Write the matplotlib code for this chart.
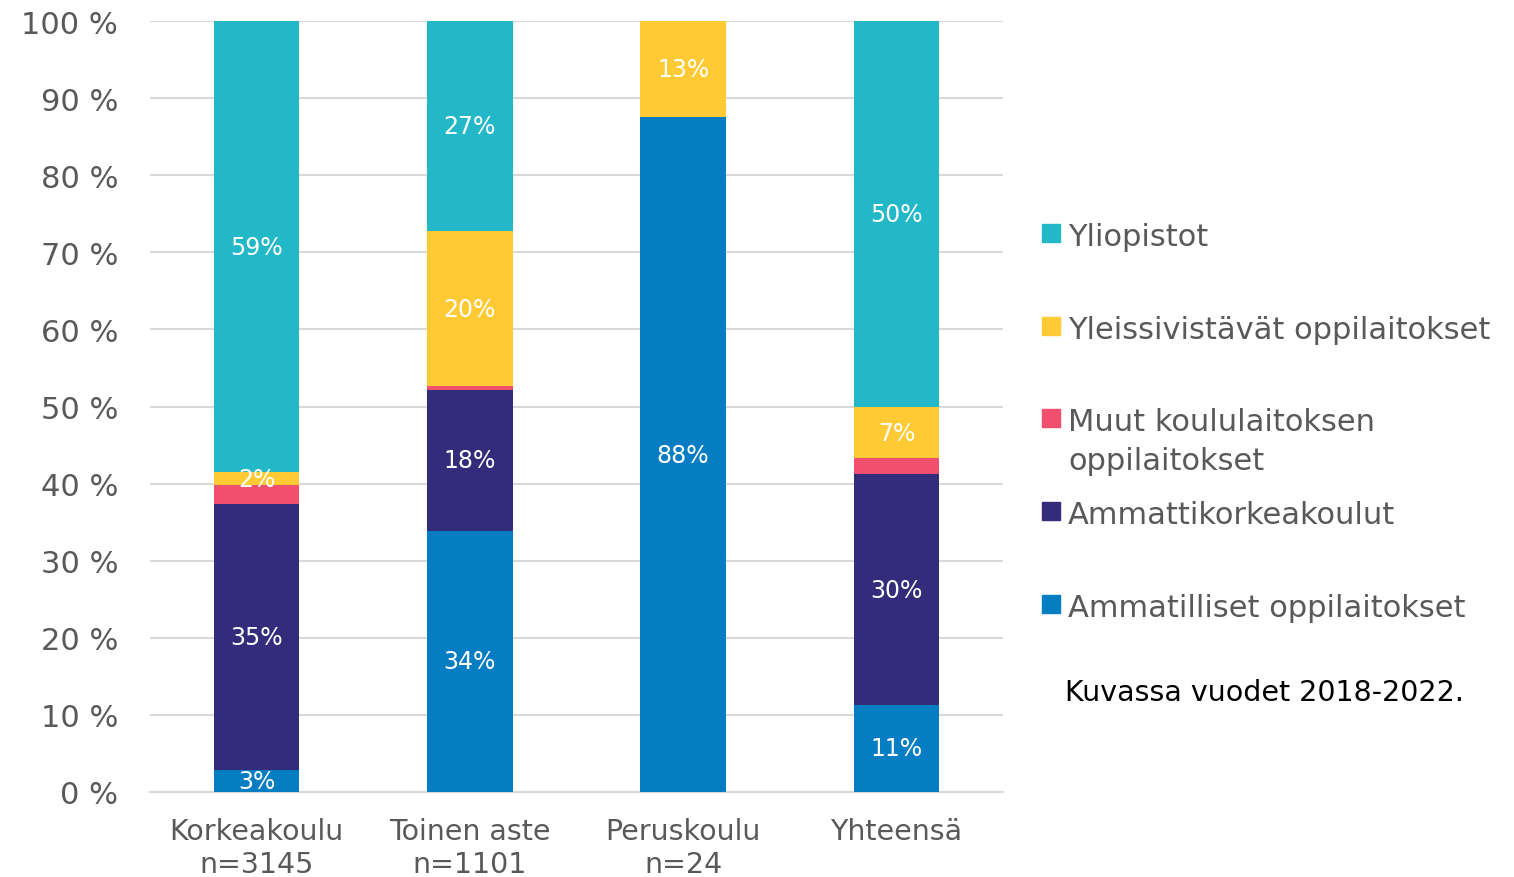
import numpy as np
import matplotlib.pyplot as plt
from matplotlib.patches import Rectangle

plt.rcParams['font.family'] = ['DejaVu Sans']

categories = ['Korkeakoulu\nn=3145', 'Toinen aste\nn=1101', 'Peruskoulu\nn=24', 'Yhteensä']

# stacked from bottom to top, shares in percent
ammatilliset = [2.8, 33.9, 87.5, 11.3]
amk = [34.5, 18.2, 0.0, 29.9]
muut = [2.5, 0.6, 0.0, 2.1]
yleissiv = [1.7, 20.0, 12.5, 6.6]
yliopistot = [58.5, 27.3, 0.0, 50.1]

series = [
    ('Ammatilliset oppilaitokset', ammatilliset, '#057DC2', True),
    ('Ammattikorkeakoulut', amk, '#332C7B', True),
    ('Muut koululaitoksen\noppilaitokset', muut, '#F0506E', False),
    ('Yleissivistävät oppilaitokset', yleissiv, '#FFCA33', True),
    ('Yliopistot', yliopistot, '#23B8C8', True),
]

fig = plt.figure(figsize=(15.14, 8.78), dpi=100)
ax = fig.add_axes([150 / 1514, 1 - 793 / 878, 853 / 1514, 771 / 878])

x = np.arange(len(categories))
bottom = np.zeros(len(categories))
for name, vals, col, show in series:
    vals = np.array(vals)
    ax.bar(x, vals, 0.4, bottom=bottom, color=col, zorder=3)
    if show:
        for xi, b, v in zip(x, bottom, vals):
            if v > 0:
                ax.text(xi, b + v / 2, f'{int(np.floor(v + 0.5))}%', ha='center', va='center',
                        color='white', fontsize=17, zorder=4)
    bottom += vals

ax.set_xlim(-0.5, 3.5)
ax.set_ylim(0, 100)
ax.set_yticks(np.arange(0, 101, 10))
ax.set_yticklabels([f'{v} %' for v in range(0, 101, 10)])
ax.set_xticks(x)
ax.set_xticklabels(categories, linespacing=1.25)
ax.tick_params(axis='y', length=0, pad=23, labelsize=22, labelcolor='#595959')
ax.tick_params(axis='x', length=0, pad=18, labelsize=20.5, labelcolor='#595959')
ax.grid(axis='y', color='#D9D9D9', linewidth=1.5, zorder=0)
for s in ['top', 'right', 'left']:
    ax.spines[s].set_visible(False)
ax.spines['bottom'].set_color('#D9D9D9')
ax.spines['bottom'].set_linewidth(1.5)

# legend, top entry first
W, H = 1514, 878
legend_y = [234, 327, 419, 512, 605]
for (name, vals, col, show), yy in zip(series[::-1], legend_y):
    fig.patches.append(Rectangle((1042 / W, 1 - (yy + 9) / H), 18 / W, 18 / H,
                                 transform=fig.transFigure, color=col))
    for i, line in enumerate(name.split('\n')):
        fig.text(1068 / W, 1 - (yy + 12 + 39 * i) / H, line, fontsize=22, color='#595959',
                 va='baseline', ha='left')

fig.text(1065 / W, 1 - 693 / H, 'Kuvassa vuodet 2018-2022.', fontsize=20.5,
         color='black', va='center', ha='left')

fig.savefig('out.png', dpi=100)
